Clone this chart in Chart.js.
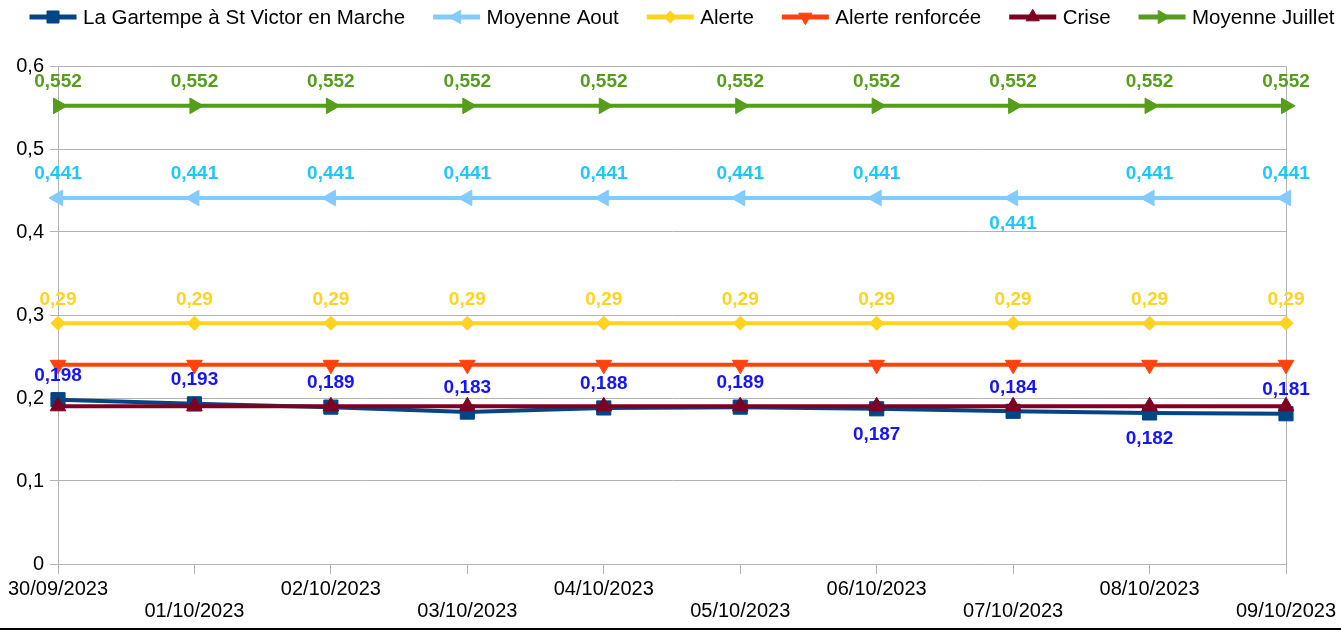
<!DOCTYPE html>
<html>
<head>
<meta charset="utf-8">
<script src="https://cdn.jsdelivr.net/npm/chart.js@4.4.0/dist/chart.umd.min.js"></script>
<style>
  html, body { margin: 0; padding: 0; background: #fff; }
  #wrap { position: relative; width: 1341px; height: 630px; }
  #rule { position: absolute; left: 0; top: 628px; width: 1341px; height: 2px; background: #000; }
</style>
</head>
<body>
<div id="wrap"><canvas id="chart"></canvas><div id="rule"></div></div>
<script>
const dates = ["30/09/2023", "01/10/2023", "02/10/2023", "03/10/2023", "04/10/2023",
               "05/10/2023", "06/10/2023", "07/10/2023", "08/10/2023", "09/10/2023"];
const gartempe = [0.198, 0.193, 0.189, 0.183, 0.188, 0.189, 0.187, 0.184, 0.182, 0.181];
const moyenneAout = [0.441, 0.441, 0.441, 0.441, 0.441, 0.441, 0.441, 0.441, 0.441, 0.441];
const alerte = [0.29, 0.29, 0.29, 0.29, 0.29, 0.29, 0.29, 0.29, 0.29, 0.29];
const alerteRenforcee = [0.24, 0.24, 0.24, 0.24, 0.24, 0.24, 0.24, 0.24, 0.24, 0.24];
const crise = [0.19, 0.19, 0.19, 0.19, 0.19, 0.19, 0.19, 0.19, 0.19, 0.19];
const moyenneJuillet = [0.552, 0.552, 0.552, 0.552, 0.552, 0.552, 0.552, 0.552, 0.552, 0.552];
const yTicks = [0, 0.1, 0.2, 0.3, 0.4, 0.5, 0.6];

const FONT = "'Liberation Sans', Arial, sans-serif";
const GRID = "#b3b3b3";
const fmt = v => String(v).replace(".", ",");

// value labels drawn above the point, or below where LibreOffice moved them
const valueLabels = {
  id: "valueLabels",
  afterDatasetsDraw(chart) {
    const ctx = chart.ctx;
    ctx.save();
    ctx.font = "bold 19px " + FONT;
    ctx.textAlign = "center";
    ctx.textBaseline = "middle";
    chart.data.datasets.forEach((ds, di) => {
      if (!ds.labelColor) return;
      ctx.fillStyle = ds.labelColor;
      chart.getDatasetMeta(di).data.forEach((pt, i) => {
        const below = (ds.labelsBelow || []).includes(i);
        ctx.fillText(fmt(ds.data[i]), pt.x, pt.y + (below ? 26 : -24));
      });
    });
    ctx.restore();
  }
};

// legend with a line and the marker on it
const lineLegend = {
  id: "lineLegend",
  afterDraw(chart) {
    const ctx = chart.ctx;
    const items = chart.data.datasets;
    const lineLen = 47, gap = 6.5, spacing = 28, y = 17;
    ctx.save();
    ctx.font = "20.5px " + FONT;
    const widths = items.map(ds => lineLen + gap + ctx.measureText(ds.label).width);
    const total = widths.reduce((a, b) => a + b, 0) + spacing * (items.length - 1);
    let x = 682 - total / 2;
    items.forEach((ds, i) => {
      ctx.strokeStyle = ds.borderColor;
      ctx.lineWidth = 5;
      ctx.beginPath();
      ctx.moveTo(x, y);
      ctx.lineTo(x + lineLen, y);
      ctx.stroke();
      ctx.fillStyle = ds.borderColor;
      ctx.lineWidth = 1;
      Chart.helpers.drawPoint(ctx, {
        pointStyle: ds.pointStyle, rotation: ds.pointRotation || 0,
        radius: ds.pointRadius * 0.85, borderWidth: 1
      }, x + lineLen / 2, y);
      ctx.fillStyle = "#000";
      ctx.textAlign = "left";
      ctx.textBaseline = "middle";
      ctx.fillText(ds.label, x + lineLen + gap, y + 1);
      x += widths[i] + spacing;
    });
    ctx.restore();
  }
};

function series(label, data, color, style, rotation, radius, extra) {
  return Object.assign({
    label, data,
    borderColor: color, backgroundColor: color,
    pointBackgroundColor: color, pointBorderColor: color,
    borderWidth: 4, pointBorderWidth: 1,
    pointStyle: style, pointRotation: rotation, pointRadius: radius,
    tension: 0
  }, extra || {});
}

const datasets = [
  series("La Gartempe à St Victor en Marche", gartempe, "#004586", "rect", 0, 10,
         { labelColor: "#1414ff", labelsBelow: [6, 8] }),
  series("Moyenne Aout", moyenneAout, "#83caff", "triangle", -90, 9,
         { labelColor: "#1ec8ff", labelsBelow: [7] }),
  series("Alerte", alerte, "#ffd320", "rectRot", 0, 7, { labelColor: "#ffd320" }),
  series("Alerte renforcée", alerteRenforcee, "#ff420e", "triangle", 180, 9),
  series("Crise", crise, "#7e0021", "triangle", 0, 9),
  series("Moyenne Juillet", moyenneJuillet, "#579d1c", "triangle", 90, 9, { labelColor: "#579d1c" })
];
// later series are painted on top, like the original
datasets.forEach((ds, i) => { ds.order = datasets.length - 1 - i; });

new Chart(document.getElementById("chart"), {
  type: "line",
  data: { labels: dates, datasets },
  options: {
    responsive: true,
    maintainAspectRatio: false,
    animation: false,
    layout: { padding: { top: 66, right: 55, bottom: 0, left: 0 } },
    plugins: { legend: { display: false }, tooltip: { enabled: false } },
    scales: {
      x: {
        offset: false,
        grid: {
          color: c => (c.index === dates.length - 1 ? GRID : "rgba(0,0,0,0)"),
          tickColor: GRID, tickLength: 10
        },
        border: { display: true, color: GRID },
        ticks: {
          autoSkip: false, maxRotation: 0, minRotation: 0, color: "#000", padding: 4,
          font: { family: FONT, size: 20, lineHeight: "22px" },
          callback: (v, i) => (i % 2 ? ["", dates[i]] : dates[i])
        },
        afterFit: s => { s.height = 66; }
      },
      y: {
        min: 0, max: 0.6,
        afterBuildTicks: s => { s.ticks = yTicks.map(v => ({ value: v })); },
        grid: { color: GRID, tickColor: GRID, tickLength: 8 },
        border: { display: true, color: GRID },
        ticks: {
          color: "#000", padding: 6,
          font: { family: FONT, size: 20 },
          callback: v => fmt(Math.round(v * 10) / 10)
        },
        afterFit: s => { s.width = 58; }
      }
    }
  },
  plugins: [valueLabels, lineLegend]
});
</script>
</body>
</html>
